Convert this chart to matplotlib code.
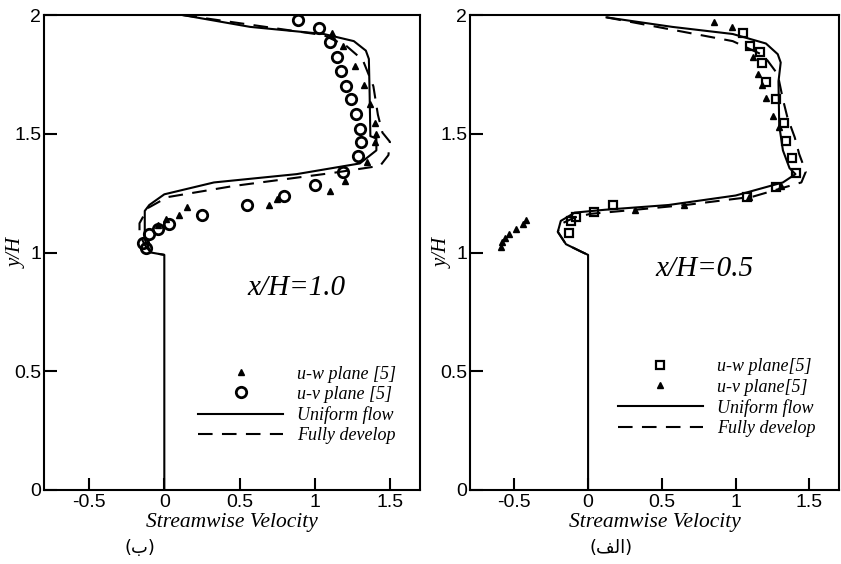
"""Streamwise velocity profiles at x/H=1.0 and x/H=0.5 (two panels)."""

import matplotlib

matplotlib.use("Agg")
import matplotlib.pyplot as plt
from matplotlib.lines import Line2D

plt.rcParams["axes.unicode_minus"] = False

# ---- panel (b): x/H = 1.0 ----
uniform_10_u = [0.12, 0.57, 1.06, 1.26, 1.34, 1.36, 1.365, 1.37, 1.41, 1.41, 1.30, 0.88,
                0.33, 0.0, -0.10, -0.13, -0.13, -0.09, 0.0, 0.0]
uniform_10_y = [2.0, 1.95, 1.92, 1.89, 1.85, 1.815, 1.67, 1.49, 1.48, 1.43, 1.375, 1.33,
                1.295, 1.245, 1.20, 1.175, 1.055, 1.0, 0.99, 0.0]
develop_10_u = [0.12, 1.06, 1.21, 1.32, 1.39, 1.42, 1.45, 1.50, 1.49, 1.435, 1.13, 0.46,
                0.02, -0.11, -0.165, -0.165, -0.13, -0.09, 0.0]
develop_10_y = [2.0, 1.915, 1.87, 1.81, 1.70, 1.58, 1.505, 1.466, 1.41, 1.365, 1.336, 1.28,
                1.233, 1.187, 1.123, 1.078, 1.032, 1.0, 0.99]
uw_10_u = [1.115, 1.19, 1.27, 1.325, 1.365, 1.40, 1.41, 1.40, 1.345, 1.20, 1.10, 0.75,
           0.695, 0.15, 0.10, 0.01, -0.045]
uw_10_y = [1.925, 1.87, 1.785, 1.705, 1.625, 1.545, 1.50, 1.465, 1.38, 1.30, 1.26, 1.225,
           1.20, 1.19, 1.16, 1.14, 1.115]
uv_10_u = [0.89, 1.03, 1.10, 1.15, 1.175, 1.21, 1.24, 1.275, 1.30, 1.31, 1.285, 1.19, 1.0,
           0.795, 0.55, 0.25, 0.03, -0.045, -0.10, -0.145, -0.12]
uv_10_y = [1.98, 1.945, 1.885, 1.825, 1.765, 1.70, 1.645, 1.585, 1.52, 1.465, 1.405, 1.34,
           1.285, 1.24, 1.20, 1.16, 1.12, 1.10, 1.08, 1.04, 1.02]

# ---- panel (a): x/H = 0.5 ----
uniform_05_u = [0.125, 0.57, 0.98, 1.205, 1.285, 1.305, 1.29, 1.295, 1.32, 1.365, 1.405,
                1.32, 1.0, 0.545, 0.115, -0.09, -0.185, -0.205, -0.15, -0.045, 0.0, 0.0]
uniform_05_y = [1.99, 1.95, 1.92, 1.88, 1.835, 1.80, 1.72, 1.535, 1.43, 1.355, 1.33,
                1.295, 1.24, 1.20, 1.18, 1.168, 1.133, 1.087, 1.035, 1.003, 0.99, 0.0]
develop_05_u = [0.125, 0.98, 1.19, 1.285, 1.32, 1.35, 1.40, 1.43, 1.475, 1.445, 1.115, 0.66,
                0.32, 0.02, -0.09, -0.185, -0.205, -0.15, -0.045, 0.0]
develop_05_y = [1.99, 1.89, 1.83, 1.75, 1.645, 1.57, 1.485, 1.415, 1.34, 1.295, 1.235, 1.20,
                1.18, 1.163, 1.148, 1.12, 1.087, 1.035, 1.003, 0.99]
uw_05_u = [1.05, 1.10, 1.165, 1.18, 1.205, 1.275, 1.33, 1.34, 1.38, 1.41, 1.275, 1.08, 0.17,
           0.04, -0.08, -0.115, -0.13]
uw_05_y = [1.925, 1.87, 1.845, 1.80, 1.72, 1.645, 1.545, 1.47, 1.40, 1.335, 1.275, 1.235,
           1.20, 1.17, 1.148, 1.133, 1.082]
uv_05_u = [0.85, 0.975, 1.12, 1.15, 1.175, 1.205, 1.25, 1.295, 1.31, 1.09, 0.65, 0.32,
           -0.42, -0.44, -0.49, -0.535, -0.565, -0.58, -0.59]
uv_05_y = [1.97, 1.95, 1.825, 1.75, 1.705, 1.65, 1.575, 1.53, 1.28, 1.232, 1.20, 1.178,
           1.137, 1.122, 1.10, 1.076, 1.06, 1.044, 1.024]

x_ticks = [-0.5, 0, 0.5, 1, 1.5]
x_tick_labels = ["-0.5", "0", "0.5", "1", "1.5"]
y_ticks = [0, 0.5, 1, 1.5, 2]
y_tick_labels = ["0", "0.5", "1", "1.5", "2"]

SERIF = "Liberation Serif"
SANS = "Liberation Sans"
DASH = (0, (7, 4.5))

TRI = dict(marker="^", color="black", markersize=4.5, linestyle="none")
CIRCLE = dict(marker="o", markerfacecolor="none", markeredgecolor="black", markersize=7.5,
              markeredgewidth=2.0, linestyle="none")
SQUARE = dict(marker="s", markerfacecolor="none", markeredgecolor="black", markersize=6,
              markeredgewidth=1.6, linestyle="none")


def style_axes(ax, label_x):
    ax.set_xlim(-0.8, 1.7)
    ax.set_ylim(0, 2)
    ax.set_xticks(x_ticks, x_tick_labels)
    ax.set_yticks(y_ticks, y_tick_labels)
    ax.tick_params(direction="in", length=9, width=1.5, labelsize=14, pad=3)
    ax.tick_params(axis="y", pad=2)
    for label in ax.get_xticklabels() + ax.get_yticklabels():
        label.set_fontfamily(SANS)
    for spine in ax.spines.values():
        spine.set_linewidth(1.5)
    ax.set_xlabel("Streamwise Velocity", fontfamily=SERIF, style="italic", fontsize=15.5,
                  labelpad=1)
    ax.set_ylabel("y/H", fontfamily=SERIF, style="italic", fontsize=15)
    ax.yaxis.set_label_coords(label_x, 0.5)


def add_legend(ax, handles, labels, anchor):
    ax.legend(handles, labels, loc="upper left", bbox_to_anchor=anchor, frameon=False,
              borderaxespad=0, borderpad=0, handlelength=4.7, handletextpad=0.8,
              labelspacing=0.18, prop={"family": SERIF, "style": "italic", "size": 13})


def main():
    fig = plt.figure(figsize=(8.41, 5.64), dpi=100)
    ax_b = fig.add_axes([44 / 841, 1 - 490 / 564, 376 / 841, 475 / 564])
    ax_a = fig.add_axes([470 / 841, 1 - 490 / 564, 369 / 841, 475 / 564])

    # panel (b)
    ax_b.plot(develop_10_u, develop_10_y, color="black", lw=1.5, linestyle=DASH)
    ax_b.plot(uniform_10_u, uniform_10_y, color="black", lw=1.5)
    ax_b.plot(uw_10_u, uw_10_y, **TRI)
    ax_b.plot(uv_10_u, uv_10_y, **CIRCLE)
    ax_b.text(0.88, 0.85, "x/H=1.0", fontfamily=SERIF, style="italic", fontsize=21,
              ha="center", va="center")
    style_axes(ax_b, -0.045)
    add_legend(ax_b,
               [Line2D([], [], **TRI), Line2D([], [], **CIRCLE),
                Line2D([], [], color="black", lw=1.5),
                Line2D([], [], color="black", lw=1.5, linestyle=DASH)],
               ["u-w plane [5]", "u-v plane [5]", "Uniform flow", "Fully develop"],
               (0.41, 0.262))

    # panel (a)
    ax_a.plot(develop_05_u, develop_05_y, color="black", lw=1.5, linestyle=DASH)
    ax_a.plot(uniform_05_u, uniform_05_y, color="black", lw=1.5)
    ax_a.plot(uw_05_u, uw_05_y, **SQUARE)
    ax_a.plot(uv_05_u, uv_05_y, **TRI)
    ax_a.text(0.79, 0.93, "x/H=0.5", fontfamily=SERIF, style="italic", fontsize=21,
              ha="center", va="center")
    style_axes(ax_a, -0.046)
    add_legend(ax_a,
               [Line2D([], [], **SQUARE), Line2D([], [], **TRI),
                Line2D([], [], color="black", lw=1.5),
                Line2D([], [], color="black", lw=1.5, linestyle=DASH)],
               ["u-w plane[5]", "u-v plane[5]", "Uniform flow", "Fully develop"],
               (0.401, 0.277))

    # sub-figure captions (Arabic letters, written in visual order / presentation forms)
    fig.text(140 / 841, 1 - 548 / 564, "(\uFE8F)", fontfamily="DejaVu Sans", fontsize=13,
             ha="center", va="center")
    fig.text(611 / 841, 1 - 548 / 564, "(\uFED2\uFEDF\uFE8D)", fontfamily="DejaVu Sans",
             fontsize=13, ha="center", va="center")

    fig.savefig("out.png", dpi=100)
    plt.close(fig)


if __name__ == "__main__":
    main()
